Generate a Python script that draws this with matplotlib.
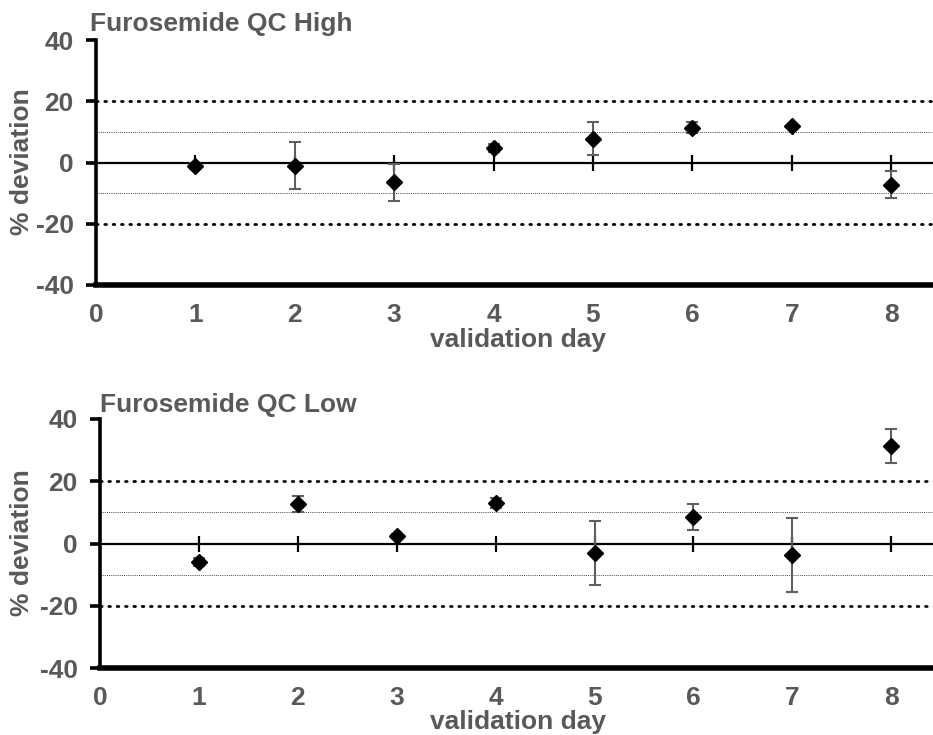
import matplotlib
matplotlib.use("Agg")
import matplotlib.pyplot as plt

days = [1, 2, 3, 4, 5, 6, 7, 8]

high_dev = [-1.0, -1.1, -6.5, 4.7, 7.7, 11.4, 11.8, -7.2]
high_err = [1.0, 7.7, 6.0, 1.2, 5.4, 1.8, 0.5, 4.3]

low_dev = [-5.9, 12.8, 2.5, 13.0, -3.0, 8.4, -3.7, 31.4]
low_err = [1.2, 2.6, 0.5, 1.7, 10.2, 4.2, 11.8, 5.4]

y_ticks = [-40, -20, 0, 20, 40]
x_ticks = [0, 1, 2, 3, 4, 5, 6, 7, 8]
titles = ["Furosemide QC High", "Furosemide QC Low"]

TXT = "#595959"
FS = 19
plt.rcParams["font.family"] = ["Liberation Sans", "DejaVu Sans"]
plt.rcParams["font.weight"] = "bold"
plt.rcParams["axes.unicode_minus"] = False

fig = plt.figure(figsize=(9.33, 7.35), dpi=100)

W, H = 933.0, 735.0
# axes boxes in pixels: left, bottom(y from top), top(y from top), px per x-unit
boxes = [
    (96, 285, 40, 99.4),
    (100, 668, 419, 98.9),
]


def panel(box, dev, err, title, title_y, ylab_y, xlab_y, title_x):
    left, bot, top, pxu = box
    xmax = (W - left) / pxu
    ax = fig.add_axes([left / W, (H - bot) / H, (W - left) / W, (bot - top) / H])
    ax.set_xlim(0, xmax)
    ax.set_ylim(-40, 40)

    # acceptance limits
    for lim in (20, -20):
        ax.axhline(lim, color="black", lw=2.0, ls=(0, (0.6, 2.4)),
                   dash_capstyle="round", zorder=1)
    for lim in (10, -10):
        ax.axhline(lim, color="#444444", lw=0.7, ls=(0, (1, 1.2)), zorder=1)

    # zero axis with crossing tick marks
    ax.axhline(0, color="black", lw=1.6, zorder=2)
    ax.plot(days, [0] * len(days), ls="none", marker="|", ms=12, mew=1.6,
            color="black", zorder=2)

    ax.errorbar(days, dev, yerr=err, fmt="D", color="black", ms=8,
                ecolor="#5f5f5f", elinewidth=1.5, capsize=4.5, capthick=1.5,
                zorder=3)

    for s in ("top", "right"):
        ax.spines[s].set_visible(False)
    ax.spines["left"].set_linewidth(2.6)
    ax.spines["bottom"].set_linewidth(4.0)
    ax.spines["left"].set_zorder(4)

    ax.set_yticks(y_ticks)
    ax.set_xticks(x_ticks)
    ax.tick_params(axis="y", length=7, width=2.6, direction="out", pad=9,
                   labelsize=FS, labelcolor=TXT)
    ax.tick_params(axis="x", length=0, pad=13, labelsize=FS, labelcolor=TXT)
    for lab in ax.get_xticklabels() + ax.get_yticklabels():
        lab.set_fontweight("bold")

    fig.text(title_x / W, (H - title_y) / H, title, fontsize=FS,
             fontweight="bold", color=TXT, ha="left", va="center")
    fig.text(22 / W, (H - ylab_y) / H, "% deviation", fontsize=FS,
             fontweight="bold", color=TXT, rotation=90, ha="center",
             va="center")
    fig.text(518 / W, (H - xlab_y) / H, "validation day", fontsize=FS,
             fontweight="bold", color=TXT, ha="center", va="center")
    return ax


panel(boxes[0], high_dev, high_err, titles[0], 24, 162, 340, 90)
panel(boxes[1], low_dev, low_err, titles[1], 405, 543, 722, 100)

fig.savefig("out.png", dpi=100)
